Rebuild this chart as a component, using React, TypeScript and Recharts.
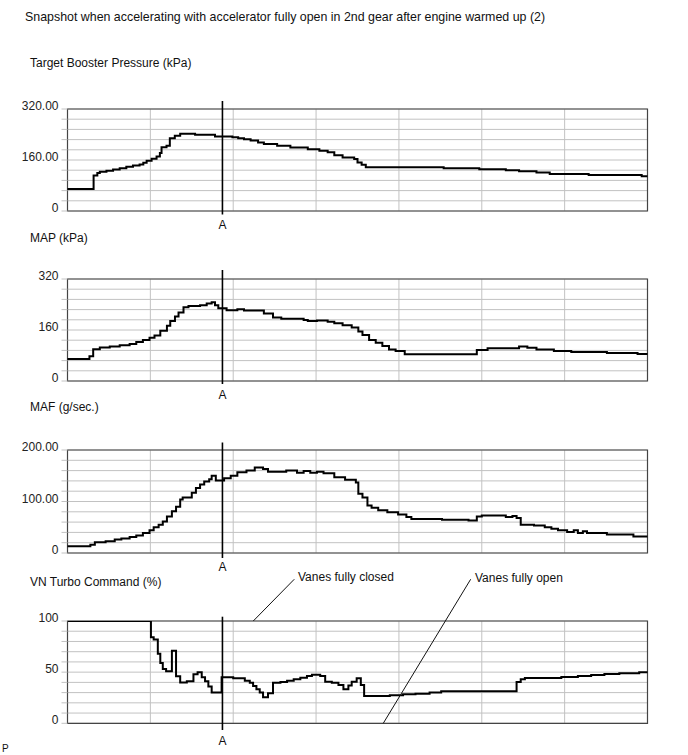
import React from 'react';
import {
  LineChart,
  Line,
  XAxis,
  YAxis,
  CartesianGrid,
  ReferenceLine,
  ReferenceArea,
} from 'recharts';

const FONT = '"Liberation Sans", Arial, sans-serif';

// time axis: 7 grid columns of 10 samples each
const timeTicks = [0, 10, 20, 30, 40, 50, 60, 70];
const markerA = 18.7;

// Target booster pressure (kPa)
const boostT = [0, 3.15, 3.6, 3.9, 4.7, 5.5, 6.3, 7.1, 7.9, 8.7, 9.15, 9.55, 10.15, 10.75, 11.15, 11.35, 11.95, 12.35, 12.95, 13.6, 15.4, 17.8, 19.9, 20.6, 21.3, 22.1, 23.0, 23.7, 25.3, 26.9, 29.0, 30.4, 31.4, 32.2, 33.2, 34.6, 35.0, 35.5, 36.0, 45.4, 49.7, 52.9, 54.5, 56.6, 58.2, 62.9, 69.3, 70];
const boostV = [69, 111, 119, 123, 126, 130, 134, 139, 143, 146, 151, 158, 164, 171, 182, 200, 205, 228, 236, 242, 239, 234, 231, 228, 225, 221, 215, 210, 205, 199, 194, 189, 184, 175, 168, 163, 152, 145, 137, 134, 131, 128, 125, 121, 116, 113, 109, 109];

// MAP (kPa)
const mapT = [0, 2.65, 3.1, 3.9, 5.1, 6.3, 7.5, 8.3, 9.1, 9.9, 10.5, 11.2, 12.0, 12.4, 12.97, 13.4, 14.0, 14.6, 16.0, 16.8, 17.4, 17.8, 18.2, 19.2, 20.5, 21.3, 23.7, 24.8, 25.8, 28.5, 29.0, 30.1, 31.4, 32.2, 33.2, 34.3, 35.1, 35.6, 36.4, 37.2, 38.0, 38.8, 39.6, 40.7, 49.4, 50.7, 54.5, 55.5, 56.6, 58.7, 60.8, 65.1, 68.8, 70];
const mapV = [69, 78, 100, 105, 108, 112, 116, 122, 129, 136, 143, 158, 173, 188, 202, 215, 231, 235, 238, 243, 247, 238, 228, 222, 225, 221, 212, 199, 195, 191, 188, 190, 186, 181, 175, 168, 155, 144, 129, 120, 110, 99, 94, 84, 97, 103, 108, 104, 99, 94, 91, 88, 85, 85];

// MAF (g/sec.)
const mafT = [0, 2.76, 3.3, 4.6, 5.7, 6.5, 7.5, 8.3, 9.1, 9.9, 10.4, 11.0, 11.5, 12.0, 12.6, 13.1, 13.6, 13.9, 15.0, 15.5, 16.0, 16.5, 17.1, 17.4, 17.9, 18.9, 19.7, 20.5, 21.6, 22.6, 23.6, 24.2, 26.4, 27.7, 28.5, 29.3, 30.1, 30.9, 32.2, 33.5, 34.8, 35.1, 35.6, 36.2, 36.7, 37.5, 38.6, 39.9, 40.9, 41.5, 45.2, 48.4, 49.4, 50.0, 52.9, 53.7, 54.2, 54.7, 56.3, 57.6, 58.4, 59.2, 60.3, 61.1, 61.6, 62.2, 62.7, 65.1, 68.3, 70];
const mafV = [13, 16, 21, 23, 26, 28, 31, 34, 39, 44, 50, 55, 61, 71, 81, 90, 104, 108, 117, 126, 133, 139, 143, 150, 141, 145, 150, 157, 160, 166, 163, 158, 160, 156, 159, 156, 158, 155, 147, 142, 137, 115, 108, 92, 88, 83, 79, 75, 70, 66, 64.5, 63, 71, 73, 70, 72, 68, 55, 53.5, 50, 47, 44, 41, 44, 39, 42, 39, 36, 32, 32];

// VN turbo command (%)
const vnT = [0, 10.07, 10.4, 10.9, 11.2, 11.5, 11.9, 12.6, 13.1, 13.6, 14.4, 15.2, 15.7, 16.2, 16.6, 17.0, 17.4, 18.6, 20.0, 21.4, 22.0, 22.4, 22.8, 23.2, 23.6, 24.2, 24.8, 25.7, 26.5, 27.3, 28.1, 28.9, 29.5, 30.5, 31.1, 31.9, 32.7, 33.3, 33.9, 34.3, 34.9, 35.4, 35.8, 38.9, 40.5, 42.0, 43.7, 45.1, 54.2, 54.7, 55.2, 59.6, 61.6, 63.2, 64.8, 66.6, 69.0, 70];
const vnV = [100, 84, 82, 68, 59, 53, 51, 71, 46, 40, 41, 48, 50, 45, 41, 36, 30, 45, 44, 41.6, 39.7, 36.5, 33.2, 30, 25.4, 29.3, 39.7, 40.3, 41.7, 43, 44.6, 46.2, 47.5, 46.2, 40.7, 39.7, 37.4, 33.2, 37, 40.7, 44, 37.5, 26.7, 27.5, 28.3, 29, 30, 31.3, 40.4, 43, 44.3, 45.3, 46.2, 47.2, 48.2, 48.9, 49.8, 49.8];

const pressureTicks = [0, 32, 64, 96, 128, 160, 192, 224, 256, 288, 320];
const mafTicks = [0, 20, 40, 60, 80, 100, 120, 140, 160, 180, 200];
const vnTicks = [0, 10, 20, 30, 40, 50, 60, 70, 80, 90, 100];

const boostLabels: Record<number, string> = { 0: '0', 160: '160.00', 320: '320.00' };
const mapLabels: Record<number, string> = { 0: '0', 160: '160', 320: '320' };
const mafLabels: Record<number, string> = { 0: '0', 100: '100.00', 200: '200.00' };
const vnLabels: Record<number, string> = { 0: '0', 50: '50', 100: '100' };

const toRows = (ts: number[], vs: number[]) => ts.map((t, i) => ({ t, v: vs[i] }));

const TOP_PAD = 50;
const BOTTOM_PAD = 30;

interface PanelProps {
  rows: { t: number; v: number }[];
  ticks: number[];
  labels: Record<number, string>;
  plotTop: number;
  plotHeight: number;
  aAbove: number; // px the A line sticks out above the frame
  aBelow: number; // px below
  aOffset: number;
  children?: React.ReactNode;
}

function Panel({ rows, ticks, labels, plotTop, plotHeight, aAbove, aBelow, aOffset, children }: PanelProps) {
  const yMax = ticks[ticks.length - 1];
  const perPx = yMax / plotHeight;

  const renderTick = (props: any) => {
    const { x, y, payload } = props;
    const text = labels[payload.value];
    if (!text) return <g />;
    return (
      <text x={x} y={y - 3} textAnchor="end" dominantBaseline="central" fontSize={12} fill="#222">
        {text}
      </text>
    );
  };

  return (
    <div style={{ position: 'absolute', left: 0, top: plotTop - TOP_PAD }}>
      <LineChart
        width={688}
        height={plotHeight + TOP_PAD + BOTTOM_PAD}
        data={rows}
        margin={{ top: TOP_PAD, right: 40.5, bottom: BOTTOM_PAD, left: 7.5 }}
      >
        <CartesianGrid stroke="#c2c2c2" strokeWidth={1} />
        <XAxis type="number" dataKey="t" domain={[0, 70]} ticks={timeTicks} hide />
        <YAxis
          type="number"
          domain={[0, yMax]}
          ticks={ticks}
          interval={0}
          width={60}
          axisLine={false}
          tickLine={{ stroke: '#c2c2c2' }}
          tickSize={6}
          tickMargin={3}
          tick={renderTick}
          allowDataOverflow
        />
        <ReferenceArea x1={0} x2={70} y1={0} y2={yMax} fill="none" stroke="#444" strokeWidth={1.2} />
        <Line
          type="stepAfter"
          dataKey="v"
          stroke="#000"
          strokeWidth={2}
          dot={false}
          activeDot={false}
          isAnimationActive={false}
        />
        <ReferenceLine
          segment={[
            { x: markerA, y: yMax + aAbove * perPx },
            { x: markerA, y: -aBelow * perPx },
          ]}
          ifOverflow="visible"
          stroke="#000"
          strokeWidth={1.6}
          label={{ value: 'A', position: 'bottom', offset: aOffset, fill: '#111', fontSize: 12 }}
        />
        {children}
      </LineChart>
    </div>
  );
}

export default function App() {
  return (
    <div
      style={{
        position: 'absolute',
        left: 0,
        top: 0,
        width: 688,
        height: 755,
        background: '#fff',
        fontFamily: FONT,
        overflow: 'hidden',
      }}
    >
      <svg width={688} height={755} style={{ position: 'absolute', left: 0, top: 0 }}>
        <g fontFamily={FONT} fill="#111" fontSize={12} dominantBaseline="central">
          <text x={25} y={17} fontSize={12.4}>Snapshot when accelerating with accelerator fully open in 2nd gear after engine warmed up (2)</text>
          <text x={30} y={63}>Target Booster Pressure (kPa)</text>
          <text x={30} y={238}>MAP (kPa)</text>
          <text x={30} y={407}>MAF (g/sec.)</text>
          <text x={30} y={582}>VN Turbo Command (%)</text>
          <text x={298} y={577}>Vanes fully closed</text>
          <text x={475} y={578}>Vanes fully open</text>
          <text x={2} y={748} fontSize={10}>P</text>
        </g>
      </svg>

      <Panel rows={toRows(boostT, boostV)} ticks={pressureTicks} labels={boostLabels}
        plotTop={108.5} plotHeight={102} aAbove={8} aBelow={3.5} aOffset={5.5} />
      <Panel rows={toRows(mapT, mapV)} ticks={pressureTicks} labels={mapLabels}
        plotTop={279} plotHeight={102} aAbove={9} aBelow={3} aOffset={6.5} />
      <Panel rows={toRows(mafT, mafV)} ticks={mafTicks} labels={mafLabels}
        plotTop={449.5} plotHeight={103} aAbove={7.5} aBelow={5} aOffset={4.5} />
      <Panel rows={toRows(vnT, vnV)} ticks={vnTicks} labels={vnLabels}
        plotTop={621} plotHeight={102.3} aAbove={4.3} aBelow={6.7} aOffset={6.5}>
        <ReferenceLine
          segment={[{ x: 27.37, y: 140.8 }, { x: 22.42, y: 100 }]}
          ifOverflow="visible"
          stroke="#111"
          strokeWidth={1}
        />
        <ReferenceLine
          segment={[{ x: 48.66, y: 140.8 }, { x: 38.11, y: 0 }]}
          ifOverflow="visible"
          stroke="#111"
          strokeWidth={1}
        />
      </Panel>
    </div>
  );
}
